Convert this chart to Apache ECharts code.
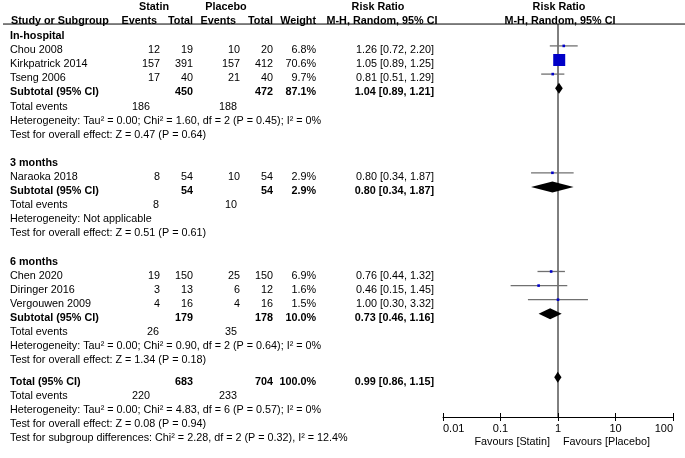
<!DOCTYPE html>
<html><head><meta charset="utf-8">
<script src="https://cdn.jsdelivr.net/npm/echarts/dist/echarts.min.js"></script>
<style>html,body{margin:0;padding:0;background:#fff}#c{width:685px;height:458px}</style>
</head><body><div id="c"></div><script>
// ---------- data ----------
const studies = ['Chou 2008','Kirkpatrick 2014','Tseng 2006','Naraoka 2018','Chen 2020','Diringer 2016','Vergouwen 2009'];
const studyGroup = [0,0,0,1,2,2,2];
const statinEvents = [12,157,17,8,19,3,4];
const statinTotal = [19,391,40,54,150,13,16];
const placeboEvents = [10,157,21,10,25,6,4];
const placeboTotal = [20,412,40,54,150,12,16];
const weights = [6.8,70.6,9.7,2.9,6.9,1.6,1.5];
const rr = [1.26,1.05,0.81,0.80,0.76,0.46,1.00];
const rrLow = [0.72,0.89,0.51,0.34,0.44,0.15,0.30];
const rrHigh = [2.20,1.25,1.29,1.87,1.32,1.45,3.32];

const groupNames = ['In-hospital','3 months','6 months'];
const groupStatinTotal = [450,54,179];
const groupPlaceboTotal = [472,54,178];
const groupWeight = [87.1,2.9,10.0];
const groupRR = [1.04,0.80,0.73];
const groupLow = [0.89,0.34,0.46];
const groupHigh = [1.21,1.87,1.16];
const groupStatinEvents = [186,8,26];
const groupPlaceboEvents = [188,10,35];
const groupHeterogeneity = [
  'Heterogeneity: Tau² = 0.00; Chi² = 1.60, df = 2 (P = 0.45); I² = 0%',
  'Heterogeneity: Not applicable',
  'Heterogeneity: Tau² = 0.00; Chi² = 0.90, df = 2 (P = 0.64); I² = 0%'];
const groupEffect = [
  'Test for overall effect: Z = 0.47 (P = 0.64)',
  'Test for overall effect: Z = 0.51 (P = 0.61)',
  'Test for overall effect: Z = 1.34 (P = 0.18)'];

const totalStatin = 683, totalPlacebo = 704, totalWeight = 100.0;
const totalRR = 0.99, totalLow = 0.86, totalHigh = 1.15;
const totalStatinEvents = 220, totalPlaceboEvents = 233;
const totalHeterogeneity = 'Heterogeneity: Tau² = 0.00; Chi² = 4.83, df = 6 (P = 0.57); I² = 0%';
const totalEffect = 'Test for overall effect: Z = 0.08 (P = 0.94)';
const subgroupDiff = 'Test for subgroup differences: Chi² = 2.28, df = 2 (P = 0.32), I² = 12.4%';

const tickValues = [0.01,0.1,1,10,100];
const tickLabels = ['0.01','0.1','1','10','100'];

// ---------- layout ----------
const FONT = '"Liberation Sans", Arial, sans-serif';
const F = (b) => (b ? 'bold ' : '') + '10.8px ' + FONT;
const X = {name:10, sE:160, sT:193, pE:240, pT:273, w:316, rr:434, sEv:150, pEv:237};
const TEXT_DY = 4.3;
const GROUP_GAP = 2;   // rows from a subgroup's last line to the next subgroup heading
const TOTAL_GAP = 1.5; // rows from the last subgroup line to the overall total

// build rows
const studyRow = [], groupRow = [], textRows = [];
let r = 0;
groupNames.forEach((g, gi) => {
  if (gi > 0) r += GROUP_GAP;
  textRows.push({r, cells:[[g, X.name, 'left', true]]}); r++;
  studies.forEach((s, i) => {
    if (studyGroup[i] !== gi) return;
    studyRow[i] = r;
    textRows.push({r, cells:[
      [s, X.name, 'left', false],
      [String(statinEvents[i]), X.sE, 'right', false],
      [String(statinTotal[i]), X.sT, 'right', false],
      [String(placeboEvents[i]), X.pE, 'right', false],
      [String(placeboTotal[i]), X.pT, 'right', false],
      [weights[i].toFixed(1) + '%', X.w, 'right', false],
      [rr[i].toFixed(2) + ' [' + rrLow[i].toFixed(2) + ', ' + rrHigh[i].toFixed(2) + ']', X.rr, 'right', false]
    ]}); r++;
  });
  groupRow[gi] = r;
  textRows.push({r, cells:[
    ['Subtotal (95% CI)', X.name, 'left', true],
    [String(groupStatinTotal[gi]), X.sT, 'right', true],
    [String(groupPlaceboTotal[gi]), X.pT, 'right', true],
    [groupWeight[gi].toFixed(1) + '%', X.w, 'right', true],
    [groupRR[gi].toFixed(2) + ' [' + groupLow[gi].toFixed(2) + ', ' + groupHigh[gi].toFixed(2) + ']', X.rr, 'right', true]
  ]}); r++;
  textRows.push({r, cells:[
    ['Total events', X.name, 'left', false],
    [String(groupStatinEvents[gi]), groupStatinEvents[gi] >= 100 ? X.sEv : X.sE - 1, 'right', false],
    [String(groupPlaceboEvents[gi]), X.pEv, 'right', false]
  ]}); r++;
  textRows.push({r, cells:[[groupHeterogeneity[gi], X.name, 'left', false]]}); r++;
  textRows.push({r, cells:[[groupEffect[gi], X.name, 'left', false]]});
});
r += TOTAL_GAP;
const totalRow = r;
textRows.push({r, cells:[
  ['Total (95% CI)', X.name, 'left', true],
  [String(totalStatin), X.sT, 'right', true],
  [String(totalPlacebo), X.pT, 'right', true],
  [totalWeight.toFixed(1) + '%', X.w, 'right', true],
  [totalRR.toFixed(2) + ' [' + totalLow.toFixed(2) + ', ' + totalHigh.toFixed(2) + ']', X.rr, 'right', true]
]}); r++;
textRows.push({r, cells:[
  ['Total events', X.name, 'left', false],
  [String(totalStatinEvents), X.sEv, 'right', false],
  [String(totalPlaceboEvents), X.pEv, 'right', false]
]}); r++;
textRows.push({r, cells:[[totalHeterogeneity, X.name, 'left', false]]}); r++;
textRows.push({r, cells:[[totalEffect, X.name, 'left', false]]}); r++;
textRows.push({r, cells:[[subgroupDiff, X.name, 'left', false]]}); r++;

const HEADER1 = -2, HEADER2 = -1, UNDERLINE = -0.55, Y_MIN = -2, Y_MAX = 27.32;

const ciData = studies.map((s, i) => [rr[i], rrLow[i], rrHigh[i], studyRow[i], weights[i]]);
const diamondData = groupNames.map((g, gi) => [groupRR[gi], groupLow[gi], groupHigh[gi], groupRow[gi]])
  .concat([[totalRR, totalLow, totalHigh, totalRow]]);

const chart = echarts.init(document.getElementById('c'), null, {renderer:'canvas'});
const axisCommon = {
  type:'log', logBase:10, min:0.01, max:100, gridIndex:0, position:'bottom', offset:0,
  splitLine:{show:false}, minorTick:{show:false}, minorSplitLine:{show:false}
};
chart.setOption({
  animation:false,
  backgroundColor:'#fff',
  grid:{left:443, width:230, top:3.6, height:413.4, containLabel:false},
  xAxis:[
    Object.assign({}, axisCommon, {
      axisLine:{show:true, onZero:false, lineStyle:{color:'#000', width:1}},
      axisTick:{show:true, inside:false, length:4, lineStyle:{color:'#000', width:1}},
      axisLabel:{show:true, color:'#000', fontSize:11, fontFamily:FONT, margin:6,
        alignMinLabel:'left', alignMaxLabel:'right',
        formatter:(v) => { const k = tickValues.findIndex(t => Math.abs(Math.log10(t) - Math.log10(v)) < 1e-6); return k >= 0 ? tickLabels[k] : ''; }}
    }),
    Object.assign({}, axisCommon, {
      axisLine:{show:false, onZero:false},
      axisTick:{show:true, inside:true, length:4, lineStyle:{color:'#000', width:1}},
      axisLabel:{show:false}
    })
  ],
  yAxis:{type:'value', inverse:true, min:Y_MIN, max:Y_MAX, show:false},
  series:[
    {
      type:'line', xAxisIndex:0, data:[[1, UNDERLINE],[1, Y_MAX]], symbol:'none',
      lineStyle:{color:'#000', width:1}, silent:true, z:1
    },
    {
      type:'custom', xAxisIndex:0, data:ciData, z:3,
      renderItem:(params, api) => {
        const row = api.value(3);
        const lo = api.coord([api.value(1), row]);
        const hi = api.coord([api.value(2), row]);
        const est = api.coord([api.value(0), row]);
        const side = Math.max(2.6, api.value(4) * 0.17);
        return {type:'group', children:[
          {type:'line', shape:{x1:lo[0], y1:lo[1], x2:hi[0], y2:hi[1]}, style:{stroke:'#707070', lineWidth:1.3}},
          {type:'rect', shape:{x:est[0]-side/2, y:est[1]-side/2, width:side, height:side}, style:{fill:'#0000c8'}}
        ]};
      }
    },
    {
      type:'custom', xAxisIndex:0, data:diamondData, z:4,
      renderItem:(params, api) => {
        const row = api.value(3);
        const lo = api.coord([api.value(1), row]);
        const hi = api.coord([api.value(2), row]);
        const est = api.coord([api.value(0), row]);
        const h = 5.5;
        return {type:'polygon', shape:{points:[[lo[0], lo[1]],[est[0], est[1]-h],[hi[0], hi[1]],[est[0], est[1]+h]]}, style:{fill:'#000'}};
      }
    }
  ]
});

const py = (row) => chart.convertToPixel({yAxisIndex:0}, row);
const px1 = chart.convertToPixel({xAxisIndex:0}, 1);
const axisY = py(Y_MAX);
const els = [];
const addText = (text, x, y, align, bold) => els.push({type:'text', silent:true, z:10,
  style:{text, x, y, align, verticalAlign:'middle', font:F(bold), fill:'#000'}});

// headers
const h1 = py(HEADER1) + TEXT_DY - 0.8, h2 = py(HEADER2) + TEXT_DY - 0.8;
addText('Statin', 154, h1, 'center', true);
addText('Placebo', 226, h1, 'center', true);
addText('Risk Ratio', 378, h1, 'center', true);
addText('Risk Ratio', px1 + 1, h1, 'center', true);
addText('Study or Subgroup', X.name + 1, h2, 'left', true);
addText('Events', 157, h2, 'right', true);
addText('Total', X.sT, h2, 'right', true);
addText('Events', 236, h2, 'right', true);
addText('Total', X.pT, h2, 'right', true);
addText('Weight', X.w, h2, 'right', true);
addText('M-H, Random, 95% CI', 382, h2, 'center', true);
addText('M-H, Random, 95% CI', px1 + 2, h2, 'center', true);
els.push({type:'line', silent:true, shape:{x1:3, y1:py(UNDERLINE), x2:685, y2:py(UNDERLINE)}, style:{stroke:'#000', lineWidth:1}});

textRows.forEach(tr => {
  const y = py(tr.r) + TEXT_DY;
  tr.cells.forEach(c => addText(c[0], c[1], y, c[2], c[3]));
});
addText('Favours [Statin]', px1 - 8, axisY + 25, 'right', false);
addText('Favours [Placebo]', px1 + 5, axisY + 25, 'left', false);

chart.setOption({graphic:{elements:els}});
</script></body></html>
